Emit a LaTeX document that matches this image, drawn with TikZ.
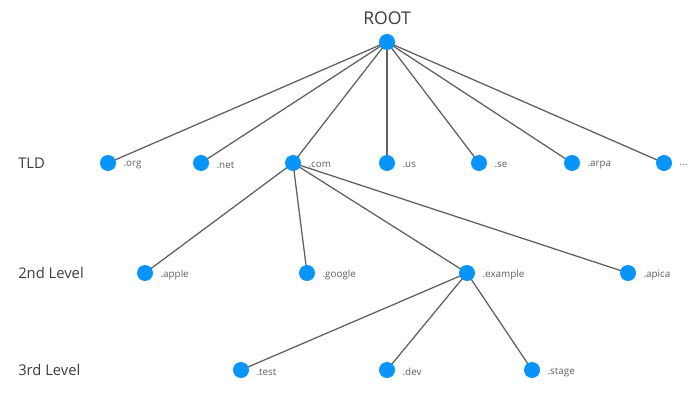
\documentclass[tikz,border=0pt]{standalone}
\usepackage{fontspec}
\setmainfont{Open Sans}
\usepackage{xcolor}
\usetikzlibrary{backgrounds}
\definecolor{DotBlue}{RGB}{8, 148, 248}
\definecolor{EdgeGray}{RGB}{95, 95, 95}
\definecolor{TextGray}{RGB}{60, 60, 60}
\definecolor{NameGray}{RGB}{95, 95, 95}
\begin{document}
\begin{tikzpicture}[
    x=0.025cm, y=-0.025cm,
    dot/.style={circle, fill=DotBlue, inner sep=0pt, minimum size=0.4cm},
    domname/.style={font=\fontsize{7}{8}\selectfont, text=NameGray, inner sep=0pt, anchor=west, yshift=-1.5pt},
    levelname/.style={font=\fontsize{10.5}{12}\selectfont, text=TextGray, anchor=west, inner sep=0pt},
    edge/.style={draw=EdgeGray, line width=0.9pt}
]
\useasboundingbox (0,0) rectangle (695,399);
% root
\node[font=\fontsize{12.5}{14}\selectfont, text=TextGray] (roottext) at (387,18) {ROOT};
\node[dot] (root) at (387,42) {};
% level captions
\node[levelname] (tld) at (18,163) {TLD};
\node[levelname] (second) at (18,273) {2nd Level};
\node[levelname] (third) at (18,370) {3rd Level};
% top level domains
\node[dot] (org) at (108,163) {};
\node[dot] (net) at (201,163) {};
\node[dot] (com) at (293,163) {};
\node[dot] (us) at (387,163) {};
\node[dot] (se) at (479,163) {};
\node[dot] (arpa) at (572,163) {};
\node[dot] (more) at (664,163) {};
% second level
\node[dot] (apple) at (145,273) {};
\node[dot] (google) at (307,273) {};
\node[dot] (example) at (467,273) {};
\node[dot] (apica) at (628,273) {};
% third level
\node[dot] (test) at (241,370) {};
\node[dot] (dev) at (387,370) {};
\node[dot] (stage) at (532,370) {};
% domain names
\foreach \n in {org, net, com, us, se, arpa, apple, google, example, apica, test, dev, stage}
    \node[domname] (\n-txt) at ([xshift=5pt]\n.east) {.\n};
\node[domname] (more-txt) at ([xshift=5pt]more.east) {.{}.{}.};
% connections
\begin{scope}[on background layer]
\foreach \c in {org, net, com, us, se, arpa, more}
    \draw[edge] (root.center) -- (\c.center);
\foreach \c in {apple, google, example, apica}
    \draw[edge] (com.center) -- (\c.center);
\foreach \c in {test, dev, stage}
    \draw[edge] (example.center) -- (\c.center);
\end{scope}
\end{tikzpicture}
\end{document}
